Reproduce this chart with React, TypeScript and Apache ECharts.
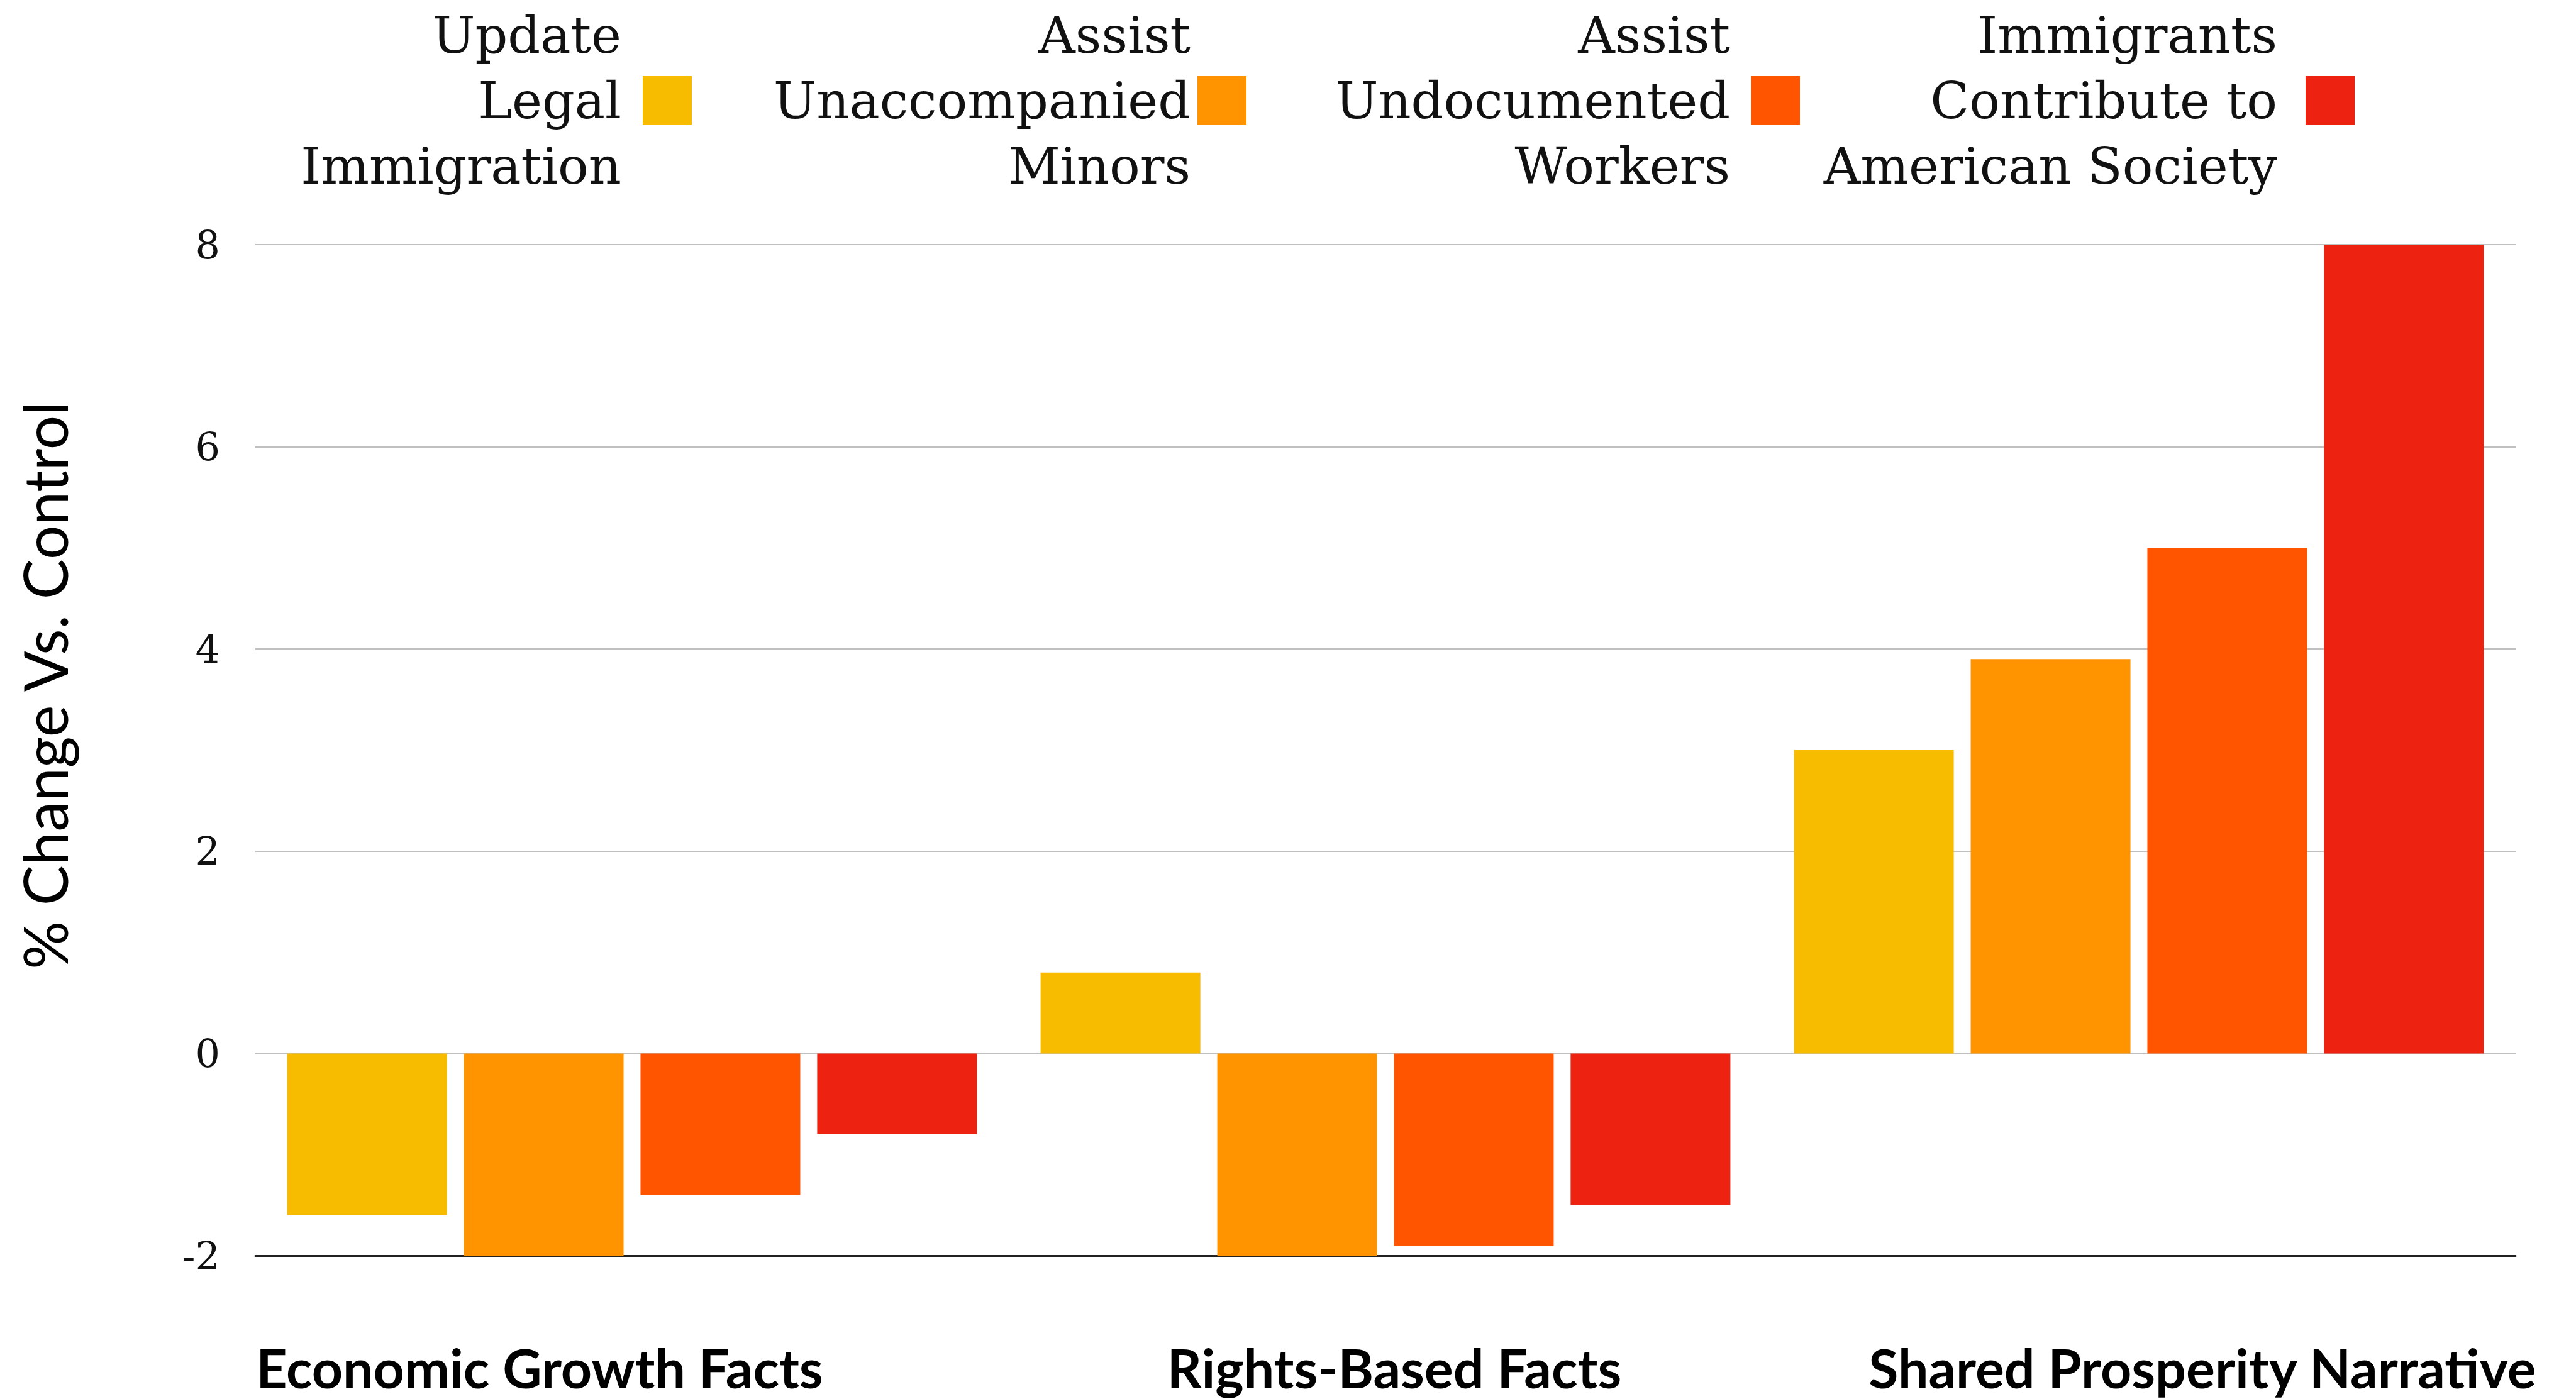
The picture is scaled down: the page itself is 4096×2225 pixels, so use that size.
import React, { useEffect, useRef } from "react";
import * as echarts from "echarts";

const categories = ["Economic Growth Facts", "Rights-Based Facts", "Shared Prosperity Narrative"];
const seriesNames = [
  "Update\nLegal\nImmigration",
  "Assist\nUnaccompanied\nMinors",
  "Assist\nUndocumented\nWorkers",
  "Immigrants\nContribute to\nAmerican Society",
];
const updateLegal = [-1.6, 0.8, 3.0];
const assistMinors = [-2.0, -2.0, 3.9];
const assistWorkers = [-1.4, -1.9, 5.0];
const immigrantsContribute = [-0.8, -1.5, 8.0];
const seriesValues = [updateLegal, assistMinors, assistWorkers, immigrantsContribute];
const colors = ["#F7BB00", "#FF9400", "#FF5500", "#EE2210"];
const yTicks = { min: -2, max: 8, interval: 2 };
const yTitle = "% Change Vs. Control";

export default function App() {
  const ref = useRef<HTMLDivElement>(null);
  useEffect(() => {
    if (!ref.current) return;
    const chart = echarts.init(ref.current, undefined, { renderer: "svg" });
    const legendRights = [2996, 2114, 1234, 352];
    const legendPads = [29, 6, 28, 40];
    const labelPads = [
      [0, 294, 0, 0],
      [0, 0, 0, 28],
      [0, 0, 0, 202],
    ];
    chart.setOption({
      animation: false,
      backgroundColor: "#ffffff",
      color: colors,
      legend: seriesNames.map((n, i) => ({
        data: [n],
        top: 4,
        right: legendRights[i],
        padding: 0,
        align: "right",
        orient: "horizontal",
        icon: "rect",
        itemWidth: 78,
        itemHeight: 78,
        selectedMode: false,
        textStyle: {
          fontFamily: "DejaVu Serif",
          fontSize: 81,
          lineHeight: 104,
          color: "#111",
          padding: [0, legendPads[i], 0, 0],
        },
      })),
      grid: { left: 406, right: 96, top: 389, bottom: 228, containLabel: false },
      xAxis: {
        type: "category",
        data: categories,
        axisLine: { show: true, onZero: false, lineStyle: { color: "#222", width: 3 } },
        axisTick: { show: false },
        splitLine: { show: false },
        axisLabel: {
          interval: 0,
          margin: 134,
          formatter: (v: string, i: number) => `{c${i}|${v}}`,
          rich: Object.fromEntries(
            labelPads.map((p, i) => [
              `c${i}`,
              { fontFamily: "Lato", fontWeight: "bold", fontSize: 86, color: "#000", padding: p },
            ])
          ),
        },
      },
      yAxis: {
        type: "value",
        min: yTicks.min,
        max: yTicks.max,
        interval: yTicks.interval,
        axisLine: { show: false },
        axisTick: { show: false },
        splitLine: { show: true, lineStyle: { color: "#c0c0c0", width: 2 } },
        axisLabel: { fontFamily: "DejaVu Serif", fontSize: 62, color: "#111", margin: 56 },
      },
      graphic: [
        {
          type: "text",
          x: 70,
          y: 1090,
          rotation: Math.PI / 2,
          style: {
            text: yTitle,
            fontFamily: "Lato",
            fontSize: 96,
            fill: "#000",
            align: "center",
            verticalAlign: "middle",
          },
        },
      ],
      series: seriesNames.map((n, i) => ({
        name: n,
        type: "bar",
        data: seriesValues[i],
        barWidth: 254,
        barGap: "10.6%",
        itemStyle: { color: colors[i] },
      })),
    });
    return () => chart.dispose();
  }, []);
  return (
    <div
      ref={ref}
      style={{ position: "fixed", left: 0, top: 0, width: 4096, height: 2225 }}
    />
  );
}
